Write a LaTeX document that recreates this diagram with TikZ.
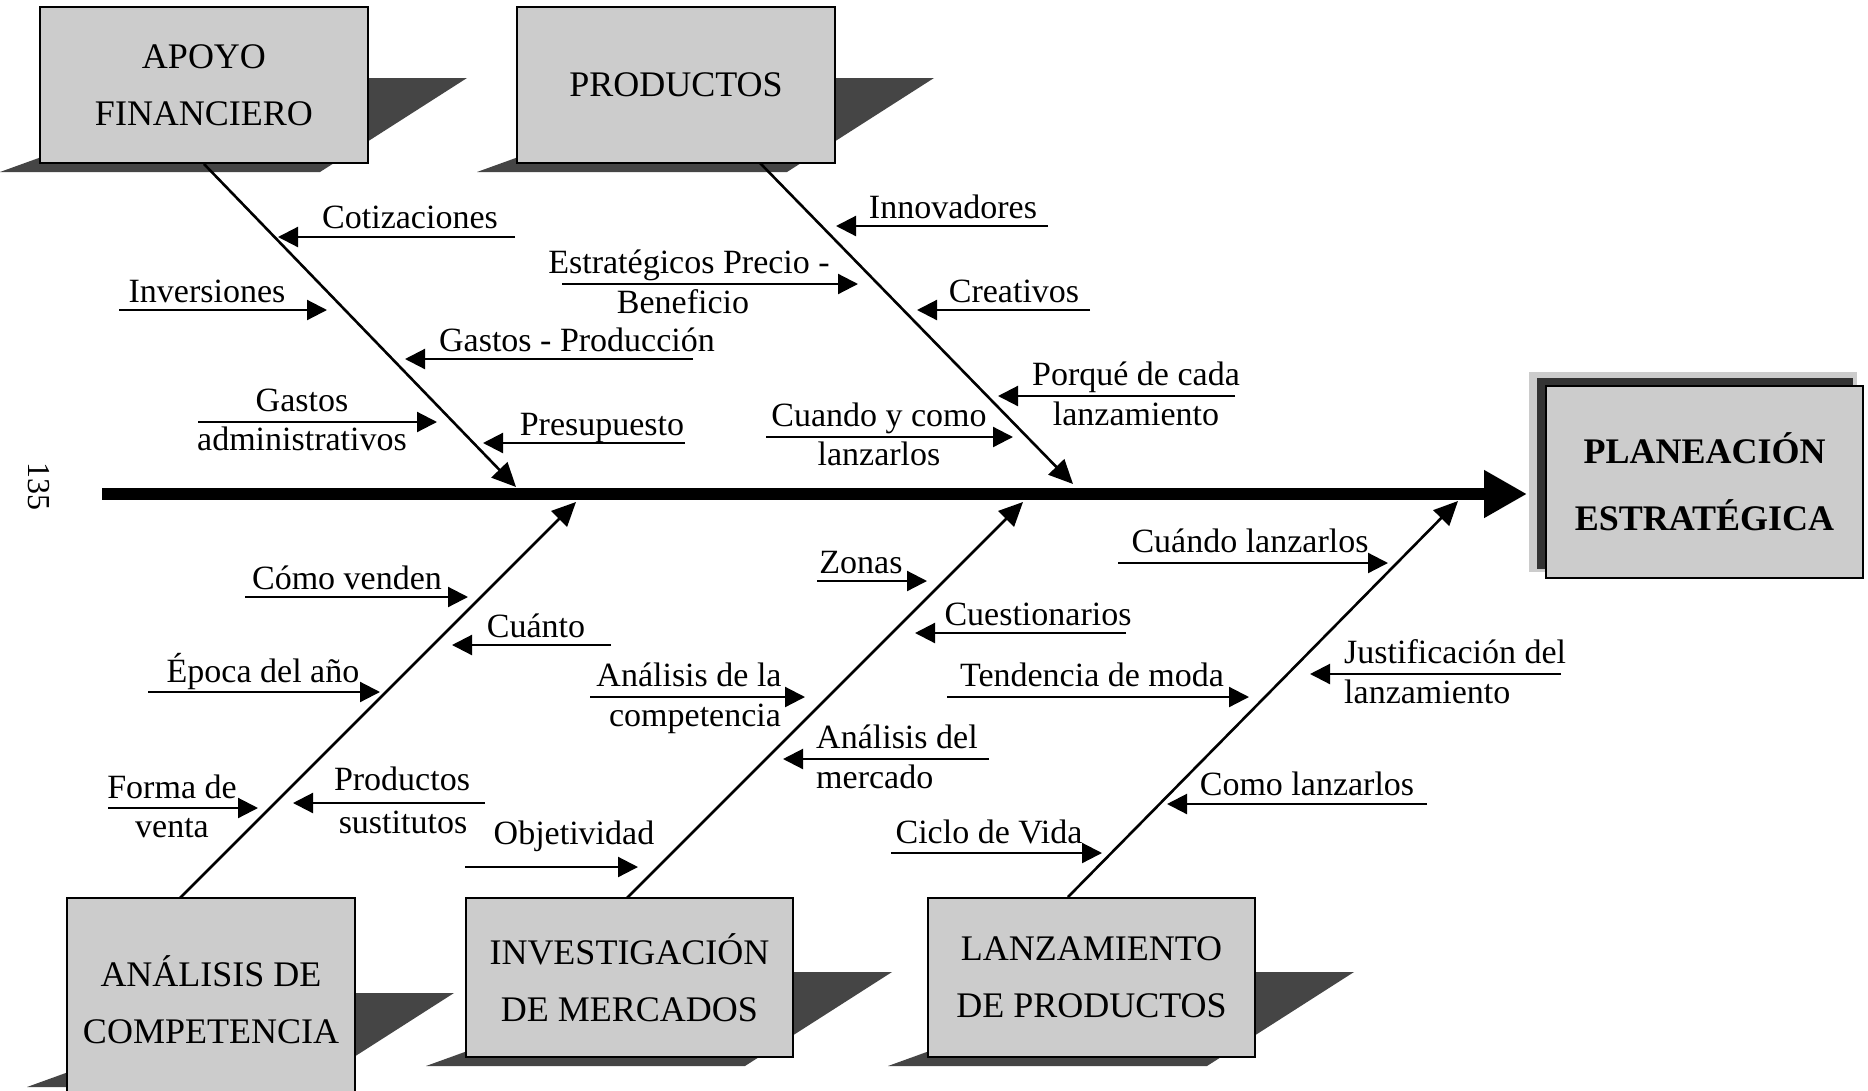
\documentclass[tikz,border=0pt]{standalone}
\usepackage{fontspec}
\setmainfont{Liberation Serif}
\usetikzlibrary{arrows.meta}
\definecolor{boxgray}{gray}{0.80}
\definecolor{shadowgray}{gray}{0.27}
\definecolor{halogray}{gray}{0.80}
\newcommand\catshadow[4]{\fill[shadowgray] (#1-40,#4+9) -- (#2-48,#4+9) -- (#2+99,#4-85) -- (#1+220,#4-85) -- cycle;}
\newcommand\subarr[4]{\coordinate (#1s) at (#2,#4); \coordinate (#1e) at (#3,#4); \draw[sub] (#1s) -- (#1e);}
\begin{document}
\begin{tikzpicture}[x=1pt,y=-1pt,
  lbl/.style={font=\fontsize{34}{40}\selectfont, inner sep=0pt, anchor=base},
  lblw/.style={lbl, anchor=base west},
  sub/.style={line width=2.2pt, -{Triangle[length=20pt,width=20pt]}},
  bone/.style={line width=2.6pt, -{Triangle[length=24pt,width=22pt]}},
  cat/.style={draw, line width=2pt, fill=boxgray, align=center, inner sep=0pt, font=\fontsize{36}{57}\selectfont},
]
\fill[white] (0,0) rectangle (1868,1090);
\useasboundingbox (0,0) rectangle (1868,1090);

% ---- category boxes with shadows ----
\catshadow{40}{368}{7}{163}
\node[cat, minimum width=328pt, minimum height=156pt] (apoyo) at (204,85) {APOYO\\FINANCIERO};
\catshadow{517}{835}{7}{163}
\node[cat, minimum width=318pt, minimum height=156pt] (productos) at (676,85) {PRODUCTOS};
\catshadow{67}{355}{898}{1078}
\node[cat, minimum width=288pt, minimum height=204pt] (analisis) at (211,1000) {ANÁLISIS DE\\COMPETENCIA};
\catshadow{466}{793}{898}{1057}
\node[cat, minimum width=327pt, minimum height=159pt] (investigacion) at (629.5,977.5) {INVESTIGACIÓN\\DE MERCADOS};
\catshadow{928}{1255}{898}{1057}
\node[cat, minimum width=327pt, minimum height=159pt] (lanzamiento) at (1091.5,977.5) {LANZAMIENTO\\DE PRODUCTOS};

% ---- effect box ----
\fill[halogray] (1529,372) rectangle (1857,572);
\fill[black!80] (1537,378) rectangle (1853,569);
\node[cat, minimum width=317pt, minimum height=192pt, font=\bfseries\fontsize{36}{67}\selectfont] (plan) at (1704.5,482) {PLANEACIÓN\\ESTRATÉGICA};

% ---- spine ----
\coordinate (spineL) at (102,494);
\draw[line width=12pt, -{Triangle[length=43pt,width=45pt]}, shorten >=18pt] (spineL) -- (plan.west |- spineL);

% ---- bones ----
\coordinate (tA) at (516,487);
\draw[bone] (apoyo.south) -- (tA);
\coordinate (sP) at (760,163); \coordinate (tP) at (1073,484);
\draw[bone] (sP) -- (tP);
\coordinate (sC) at (180,898); \coordinate (tC) at (576,502);
\draw[bone] (sC) -- (tC);
\coordinate (sI) at (627,898); \coordinate (tI) at (1023,502);
\draw[bone] (sI) -- (tI);
\coordinate (sL) at (1068,897); \coordinate (tL) at (1458,501);
\draw[bone] (sL) -- (tL);

% ---- APOYO FINANCIERO ----
\subarr{a1}{515}{278}{237}
\node[lbl] (a1t) at (410,228) {Cotizaciones};
\subarr{a2}{119}{327}{310}
\node[lbl] (a2t) at (207,302) {Inversiones};
\subarr{a3}{693}{405}{359}
\node[lbl] (a3t) at (577,351) {Gastos - Producción};
\subarr{a4}{198}{437}{422}
\node[lbl] (a4t) at (302,411) {Gastos};
\node[lbl] (a4u) at (302,450) {administrativos};
\subarr{a5}{685}{483}{443}
\node[lbl] (a5t) at (602,435) {Presupuesto};

% ---- PRODUCTOS ----
\subarr{p1}{1048}{836}{226}
\node[lbl] (p1t) at (953,218) {Innovadores};
\subarr{p2}{562}{858}{284}
\node[lbl] (p2t) at (689,273) {Estratégicos Precio -};
\node[lbl] (p2u) at (683,313) {Beneficio};
\subarr{p3}{1090}{917}{310}
\node[lbl] (p3t) at (1014,302) {Creativos};
\subarr{p4}{1235}{998}{396}
\node[lbl] (p4t) at (1136,385) {Porqué de cada};
\node[lbl] (p4u) at (1136,425) {lanzamiento};
\subarr{p5}{766}{1013}{437}
\node[lbl] (p5t) at (879,426) {Cuando y como};
\node[lbl] (p5u) at (879,465) {lanzarlos};

% ---- ANALISIS DE COMPETENCIA ----
\subarr{c1}{245}{468}{597}
\node[lbl] (c1t) at (347,589) {Cómo venden};
\subarr{c2}{611}{452}{645}
\node[lbl] (c2t) at (536,637) {Cuánto};
\subarr{c3}{148}{380}{692}
\node[lbl] (c3t) at (263,682) {Época del año};
\subarr{c4}{108}{258}{808}
\node[lbl] (c4t) at (172,798) {Forma de};
\node[lbl] (c4u) at (172,837) {venta};
\subarr{c5}{485}{293}{803}
\node[lbl] (c5t) at (402,790) {Productos};
\node[lbl] (c5u) at (403,833) {sustitutos};

% ---- INVESTIGACION DE MERCADOS ----
\subarr{i1}{817}{927}{581}
\node[lbl] (i1t) at (861,573) {Zonas};
\subarr{i2}{1126}{915}{633}
\node[lbl] (i2t) at (1038,625) {Cuestionarios};
\subarr{i3}{590}{805}{697}
\node[lbl] (i3t) at (689,686) {Análisis de la};
\node[lbl] (i3u) at (695,726) {competencia};
\subarr{i4}{989}{783}{759}
\node[lblw] (i4t) at (816,748) {Análisis del};
\node[lblw] (i4u) at (816,788) {mercado};
\subarr{i5}{465}{638}{867}
\node[lbl] (i5t) at (574,844) {Objetividad};

% ---- LANZAMIENTO DE PRODUCTOS ----
\subarr{l1}{1118}{1388}{563}
\node[lbl] (l1t) at (1250,552) {Cuándo lanzarlos};
\subarr{l2}{1561}{1310}{674}
\node[lblw] (l2t) at (1344,663) {Justificación del};
\node[lblw] (l2u) at (1344,703) {lanzamiento};
\subarr{l3}{947}{1249}{697}
\node[lbl] (l3t) at (1092,686) {Tendencia de moda};
\subarr{l4}{1427}{1167}{804}
\node[lbl] (l4t) at (1307,795) {Como lanzarlos};
\subarr{l5}{891}{1102}{853}
\node[lbl] (l5t) at (989,843) {Ciclo de Vida};

% ---- page number ----
\node[font=\fontsize{32}{38}\selectfont, rotate=-90, inner sep=0pt] (pg) at (39,486) {135};
\end{tikzpicture}
\end{document}
